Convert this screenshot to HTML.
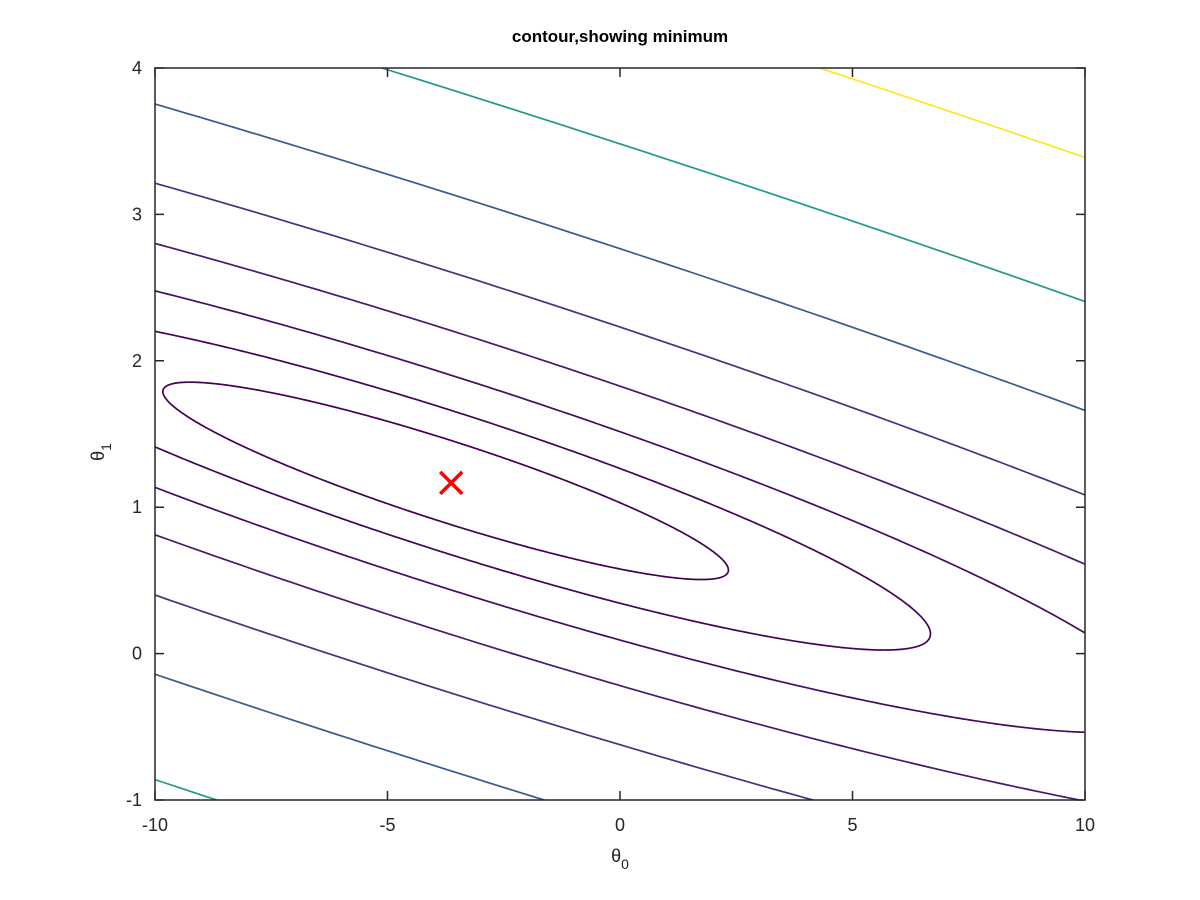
<!DOCTYPE html>
<html><head><meta charset="utf-8"><style>
html,body{margin:0;padding:0;background:#fff;width:1200px;height:900px;overflow:hidden}
svg{display:block;font-family:"Liberation Sans",sans-serif}
</style></head><body>
<svg id="chart" width="1200" height="900" viewBox="0 0 1200 900">
<rect width="1200" height="900" fill="#fff"/>
<defs><clipPath id="clip"><rect x="155" y="68" width="930" height="732"/></clipPath></defs>
<text x="620" y="42" text-anchor="middle" font-size="17" font-weight="bold" fill="#000">contour,showing minimum</text>
<g id="contours" clip-path="url(#clip)"></g>
<g id="axes"></g>
<g id="marker"></g>
<text x="620" y="862" text-anchor="middle" font-size="18" fill="#222">θ<tspan font-size="14" dy="7">0</tspan></text>
<text transform="translate(104,452) rotate(-90)" text-anchor="middle" font-size="18" fill="#222">θ<tspan font-size="14" dy="7">1</tspan></text>
</svg>
<script>
// cost function parameters (quadratic J(theta0, theta1))
const thetaMin = [-3.75, 1.18];
const Jmin = 4.4834;
const meanX = 8.1598;
const varX = 14.82;
const levels = [7.85, 14.38, 26.37, 48.33, 88.59, 162.4, 297.6, 545.6, 1000];
const levelLo = 7.85;
const levelHi = 545.6;
const xTicks = [-10, -5, 0, 5, 10];
const yTicks = [-1, 0, 1, 2, 3, 4];

const X0=155, X1=1085, Y0=800, Y1=68;
const xs = v => X0 + (v+10)/20*(X1-X0);
const ys = v => Y0 - (v+1)/5*(Y0-Y1);
const NS='http://www.w3.org/2000/svg';
const viridis=[[68,1,84],[72,40,120],[62,73,137],[49,104,142],[38,130,142],[31,158,137],[53,183,121],[110,206,88],[181,222,43],[253,231,37]];
function vcol(t){t=Math.max(0,Math.min(1,t))*9;const i=Math.min(8,Math.floor(t)),f=t-i;
 const c=viridis[i].map((a,k)=>Math.round(a+(viridis[i+1][k]-a)*f));return `rgb(${c})`;}
const cg=document.getElementById('contours');
levels.forEach((L,idx)=>{
 const r=Math.sqrt(2*(L-Jmin));let d='';
 for(let i=0;i<=720;i++){const p=i/720*2*Math.PI;
  const v=r/Math.sqrt(varX)*Math.sin(p), u=r*Math.cos(p);
  const t0=thetaMin[0]+u-meanX*v, t1=thetaMin[1]+v;
  d+=(i?'L':'M')+xs(t0).toFixed(2)+','+ys(t1).toFixed(2);}
 const el=document.createElementNS(NS,'path');
 el.setAttribute('d',d);el.setAttribute('fill','none');
 el.setAttribute('stroke',vcol((L-levelLo)/(levelHi-levelLo)));el.setAttribute('stroke-width','1.7');
 
 
 cg.appendChild(el);
});
const ag=document.getElementById('axes');
function add(tag,attrs,parent,text){const e=document.createElementNS(NS,tag);for(const k in attrs)e.setAttribute(k,attrs[k]);if(text!==undefined)e.textContent=text;parent.appendChild(e);return e;}
const box=add('rect',{x:X0,y:Y1,width:X1-X0,height:Y0-Y1,fill:'none',stroke:'#262626','stroke-width':1.5},ag);


xTicks.forEach(v=>{const x=xs(v);
 add('path',{d:`M${x},${Y0}v-9M${x},${Y1}v9`,stroke:'#262626','stroke-width':1.5},ag);
 const t=add('text',{x:x,y:Y0+31,'text-anchor':'middle','font-size':18,fill:'#262626'},ag,String(v));
 
 
});
yTicks.forEach(v=>{const y=ys(v);
 add('path',{d:`M${X0},${y}h9M${X1},${y}h-9`,stroke:'#262626','stroke-width':1.5},ag);
 const t=add('text',{x:X0-13,y:y+6,'text-anchor':'end','font-size':18,fill:'#262626'},ag,String(v));
 
 
});
const mg=document.getElementById('marker');
const mx=xs(-3.63),my=ys(1.166),s=11;
add('path',{d:`M${mx-s},${my-s}L${mx+s},${my+s}M${mx-s},${my+s}L${mx+s},${my-s}`,stroke:'#ff0000','stroke-width':3.5},mg);
</script>
</body></html>
